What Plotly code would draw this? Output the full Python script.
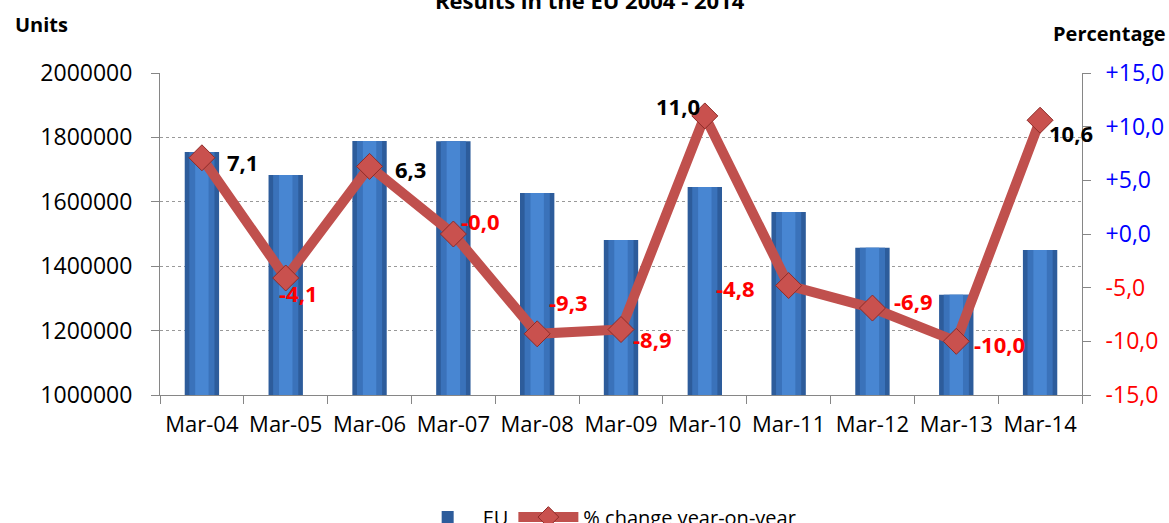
import plotly.graph_objects as go

categories = ["Mar-04", "Mar-05", "Mar-06", "Mar-07", "Mar-08", "Mar-09",
              "Mar-10", "Mar-11", "Mar-12", "Mar-13", "Mar-14"]
units_eu = [1755000, 1683000, 1789000, 1788000, 1627000, 1481000,
            1646000, 1568000, 1457000, 1311000, 1450000]
pct_change = [7.1, -4.1, 6.3, -0.0, -9.3, -8.9, 11.0, -4.8, -6.9, -10.0, 10.6]
left_ticks = [1000000, 1200000, 1400000, 1600000, 1800000, 2000000]
right_ticks = [-15, -10, -5, 0, 5, 10, 15]
right_tick_labels = ["-15,0", "-10,0", "-5,0", "+0,0", "+5,0", "+10,0", "+15,0"]

# label pixel offsets (style)
label_dx = [41, 13, 41, 27, 31, 31, -27, -53, 41, 43, 31]
label_dy = [-4, -15, -3, 13, 32, -9, 10, -2, 7, -3, -13]

FONT = "Open Sans"
RED = "#c0504d"

fig = go.Figure()

# bars with a simple layered "gradient"
fig.add_trace(go.Bar(x=categories, y=units_eu, name="EU", width=0.41,
                     marker=dict(color="#2d5c9b", line=dict(width=0)), yaxis="y"))
fig.add_trace(go.Bar(x=categories, y=units_eu, width=0.30, showlegend=False,
                     marker=dict(color="#3a72ba", line=dict(width=0)), yaxis="y",
                     hoverinfo="skip"))
fig.add_trace(go.Bar(x=categories, y=units_eu, width=0.16, showlegend=False,
                     marker=dict(color="#4886d2", line=dict(width=0)), yaxis="y",
                     hoverinfo="skip"))

fig.add_trace(go.Scatter(x=categories, y=pct_change, name="% change year-on-year",
                         mode="lines+markers", yaxis="y2",
                         line=dict(color=RED, width=10),
                         marker=dict(symbol="diamond", size=20, color="#c9514e",
                                     line=dict(color="#8e2b28", width=1))))

annotations = []
for c, v, dx, dy in zip(categories, pct_change, label_dx, label_dy):
    txt = f"{v:.1f}".replace(".", ",")
    col = "#ff0000" if txt.startswith("-") else "#000000"
    annotations.append(dict(x=c, y=v, xref="x", yref="y2", text=f"<b>{txt}</b>",
                            showarrow=False, xshift=dx, yshift=dy,
                            font=dict(family=FONT, size=22, color=col)))

annotations += [
    dict(text="<b>Results in the EU 2004 - 2014</b>", xref="paper", yref="paper",
         x=0.466, y=1.2267, showarrow=False, xanchor="center", yanchor="middle",
         font=dict(family=FONT, size=22, color="#000000")),
    dict(text="<b>Units</b>", xref="paper", yref="paper", x=-0.129, y=1.152,
         showarrow=False, xanchor="center", yanchor="middle",
         font=dict(family=FONT, size=20, color="#000000")),
    dict(text="<b>Percentage</b>", xref="paper", yref="paper", x=1.030, y=1.124,
         showarrow=False, xanchor="center", yanchor="middle",
         font=dict(family=FONT, size=20, color="#000000")),
]

tick_text = []
for v, t in zip(right_ticks, right_tick_labels):
    col = "#ff0000" if v < 0 else "#0000ff"
    tick_text.append(f'<span style="color:{col}">{t}</span>')

fig.update_layout(
    width=1169, height=523,
    margin=dict(l=160, r=87, t=73, b=128, autoexpand=False),
    paper_bgcolor="white", plot_bgcolor="white",
    barmode="overlay",
    font=dict(family=FONT, size=23, color="#000000"),
    showlegend=True,
    legend=dict(orientation="h", x=0.485, xanchor="center", y=-0.379, yanchor="middle",
                font=dict(family=FONT, size=20, color="#000000"),
                itemwidth=60, tracegroupgap=0),
    xaxis=dict(type="category", showline=True, linecolor="#868686", linewidth=1,
               ticks="outside", tickson="boundaries", ticklen=8, tickcolor="#868686",
               showgrid=False, tickfont=dict(size=22), range=[-0.5, 10.5],
               ticklabelstandoff=10),
    yaxis=dict(range=[1000000, 2000000], tickvals=left_ticks,
               ticktext=[str(v) for v in left_ticks],
               showline=True, linecolor="#868686", linewidth=1,
               ticks="outside", ticklen=8, tickcolor="#868686",
               showgrid=True, gridcolor="#999999", griddash="dot", gridwidth=1,
               zeroline=False, tickfont=dict(size=23), ticklabelstandoff=14),
    yaxis2=dict(range=[-15, 15], overlaying="y", side="right",
                tickvals=right_ticks, ticktext=tick_text,
                showline=True, linecolor="#868686", linewidth=1,
                ticks="outside", ticklen=8, tickcolor="#868686",
                showgrid=False, zeroline=False, tickfont=dict(size=23),
                ticklabelstandoff=10),
    annotations=annotations,
)

fig.write_html("out.html", config={"displayModeBar": False},
               post_script="document.body.style.margin='0';document.body.style.overflow='hidden';")
